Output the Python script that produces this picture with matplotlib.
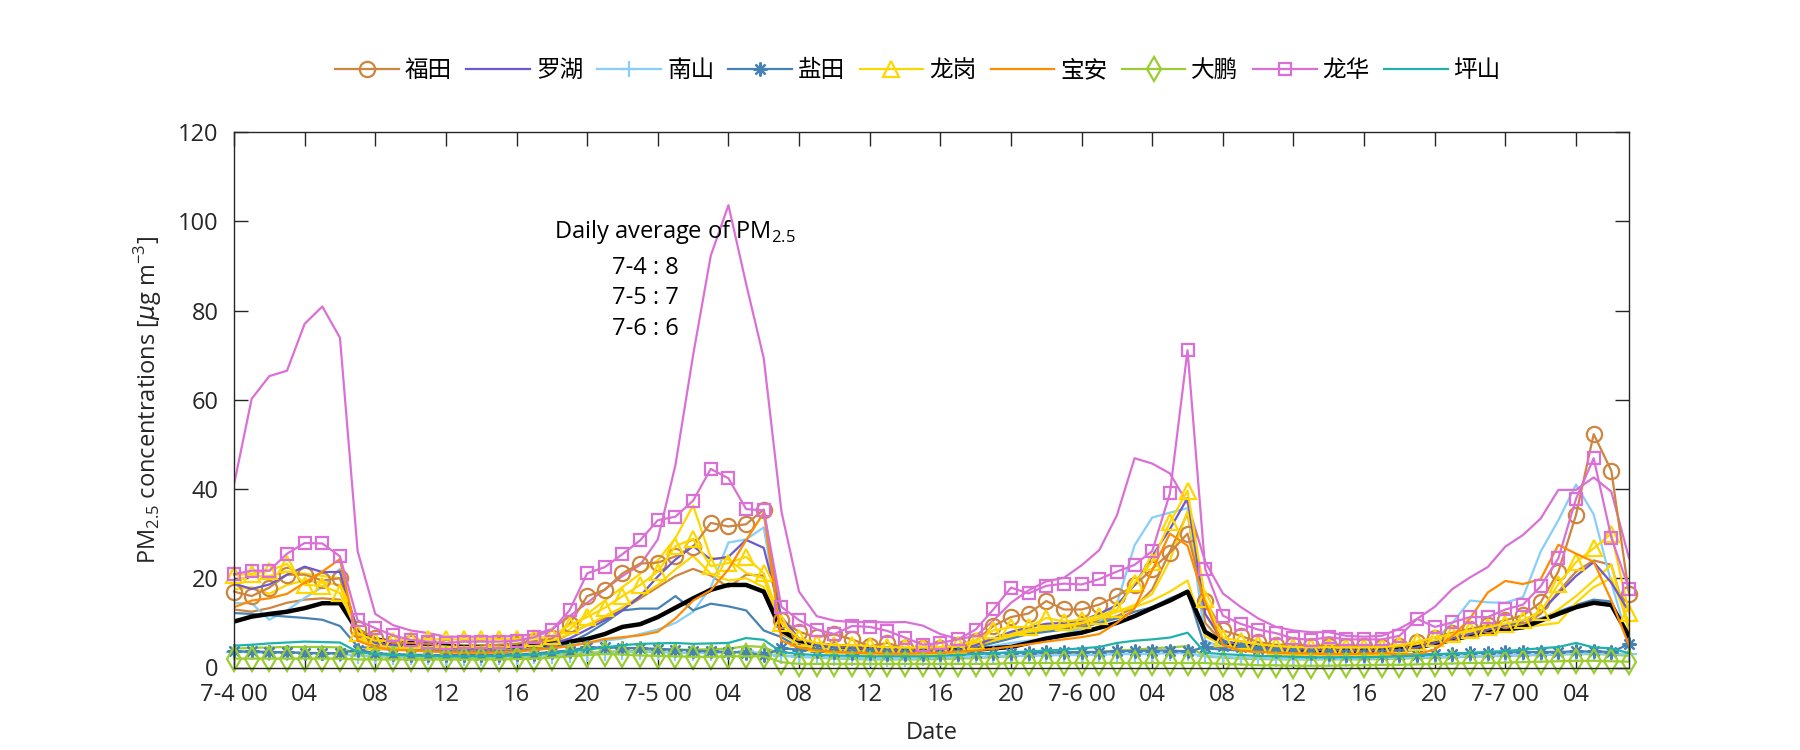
import numpy as np
import matplotlib
matplotlib.use("Agg")
import matplotlib.pyplot as plt

plt.rcParams["font.family"] = ["Open Sans", "Noto Sans CJK SC", "DejaVu Sans"]
plt.rcParams["mathtext.fontset"] = "custom"
plt.rcParams["mathtext.rm"] = "Open Sans"
plt.rcParams["mathtext.it"] = "DejaVu Sans:italic"

# hourly values, 7-4 00:00 .. 7-7 07:00 (80 hours)
hours = np.arange(80)

district_names = ["福田", "罗湖", "南山", "盐田", "龙岗", "宝安", "大鹏", "龙华", "坪山"]

futian_1 = [17.0, 16.0, 17.9, 20.8, 20.8, 19.5, 20.0, 8.7,
            6.5, 5.5, 5.5, 5.3, 4.7, 4.4, 4.7, 5.1, 5.3, 5.9,
            6.5, 9.7, 16.0, 17.4, 21.1, 23.3, 23.5, 24.9, 27.1, 32.4, 31.6, 32.1, 35.4, 10.6,
            8.0, 6.8, 7.4, 6.3, 4.8, 5.5, 4.3, 4.3, 4.4, 5.1,
            6.0, 9.3, 11.3, 12.1, 14.9, 13.0, 13.0, 14.1, 16.0, 18.4, 22.1, 25.7, 30.0, 14.9,
            8.3, 7.1, 5.7, 5.1, 5.1, 4.9, 4.9, 4.9, 4.9, 4.5,
            4.9, 5.7, 6.7, 7.8, 8.7, 9.5, 10.6, 11.7, 14.6, 21.5, 34.2, 52.3, 44.1, 16.4]
futian_2 = [13.0, 12.5, 13.3, 14.5, 15.2, 15.5, 15.2, 7.0,
            5.0, 4.5, 4.3, 4.2, 4.0, 3.9, 4.0, 4.2, 4.4, 4.8,
            5.5, 7.5, 9.5, 11.0, 13.0, 15.5, 18.0, 20.5, 22.1, 20.6, 18.0, 20.8, 20.6, 7.5,
            5.5, 4.8, 4.5, 4.3, 4.1, 4.0, 3.9, 3.9, 4.0, 4.4,
            5.0, 6.0, 7.0, 7.8, 8.5, 8.8, 9.5, 10.5, 11.5, 13.5, 17.5, 26.0, 34.6, 10.0,
            5.5, 4.8, 4.4, 4.2, 4.0, 4.0, 3.9, 3.9, 3.9, 3.9,
            4.2, 4.8, 5.5, 6.0, 6.8, 7.5, 8.5, 9.5, 12.0, 17.0, 21.5, 24.0, 23.0, 9.0]
luohu = [18.8, 17.6, 18.6, 20.8, 22.6, 21.4, 21.4, 8.0,
         5.5, 5.0, 4.8, 4.6, 4.5, 4.3, 4.3, 4.4, 4.6, 4.8,
         5.3, 6.5, 8.5, 10.6, 12.8, 16.0, 20.4, 24.2, 27.2, 24.2, 24.8, 28.6, 26.8, 11.3,
         6.5, 5.0, 4.6, 4.4, 4.2, 4.0, 3.8, 3.6, 3.5, 3.8,
         5.0, 6.5, 8.0, 9.0, 9.8, 10.0, 10.5, 12.0, 14.0, 18.5, 25.0, 31.0, 38.0, 12.0,
         6.0, 5.0, 4.5, 4.3, 4.1, 4.0, 3.9, 3.8, 3.8, 3.8,
         3.9, 4.5, 5.5, 6.5, 7.5, 8.5, 9.5, 10.5, 12.5, 16.5, 20.5, 23.6, 19.0, 12.5]
nanshan_1 = [3.5, 3.4, 3.3, 3.3, 3.2, 3.2, 3.1, 2.6,
             2.5, 2.4, 2.3, 2.3, 2.2, 2.2, 2.2, 2.3, 2.4, 2.5,
             2.6, 2.8, 3.0, 3.2, 3.4, 3.5, 3.5, 3.3, 3.2, 3.3, 3.4, 3.6, 3.2, 2.6,
             2.4, 2.3, 2.2, 2.1, 2.0, 2.0, 2.0, 2.1, 2.2, 2.3,
             2.4, 2.5, 2.6, 2.6, 2.7, 2.8, 2.8, 2.9, 3.0, 3.0, 3.1, 3.2, 3.2, 2.6,
             2.4, 2.2, 2.1, 2.0, 2.0, 2.0, 2.0, 2.0, 2.1, 2.1,
             2.2, 2.3, 2.4, 2.4, 2.5, 2.6, 2.7, 2.8, 2.9, 3.0, 3.1, 3.2, 3.0, 3.0]
nanshan_2 = [14.4, 14.4, 10.7, 12.8, 15.6, 18.0, 22.1, 7.5,
             5.0, 4.5, 4.2, 4.0, 3.8, 3.7, 3.7, 3.8, 3.9, 4.1,
             4.5, 5.0, 5.5, 6.0, 6.5, 7.5, 8.5, 10.0, 12.5, 18.0, 28.0, 28.7, 31.4, 8.0,
             4.8, 4.2, 4.0, 3.8, 3.7, 3.6, 3.5, 3.5, 3.6, 3.8,
             4.2, 4.8, 5.5, 6.0, 6.5, 7.5, 8.7, 10.2, 14.3, 27.4, 33.6, 34.7, 35.7, 6.0,
             4.5, 4.0, 3.8, 3.6, 3.5, 3.4, 3.4, 3.4, 3.4, 3.5,
             3.8, 4.5, 6.0, 10.0, 15.0, 14.6, 14.5, 15.8, 26.0, 33.0, 41.0, 34.3, 19.0, 5.5]
yantian_1 = [3.6, 3.6, 3.5, 3.4, 3.3, 3.2, 3.2, 4.0,
             3.2, 3.0, 2.9, 2.8, 2.8, 2.8, 2.8, 2.9, 3.0, 3.1,
             3.5, 3.8, 4.5, 4.5, 4.4, 4.3, 4.2, 4.0, 3.8, 3.6, 3.5, 3.3, 2.7, 4.3,
             4.0, 3.8, 3.5, 3.3, 3.2, 3.0, 3.0, 3.0, 3.0, 3.1,
             3.2, 3.2, 3.3, 3.3, 3.4, 3.4, 3.5, 3.5, 3.6, 3.7, 3.8, 3.8, 3.6, 4.5,
             4.8, 4.6, 4.2, 3.8, 3.4, 3.2, 3.0, 2.8, 2.8, 2.8,
             2.8, 2.9, 3.0, 3.1, 3.2, 3.3, 3.4, 3.4, 3.5, 3.5, 3.6, 3.6, 3.5, 5.2]
yantian_2 = [12.2, 12.0, 11.7, 11.4, 11.1, 10.7, 9.3, 4.7,
             4.2, 4.0, 3.9, 3.8, 3.7, 3.6, 3.6, 3.7, 3.8, 4.0,
             4.5, 5.5, 7.5, 10.0, 12.8, 13.2, 13.2, 16.0, 12.8, 14.3, 13.7, 12.8, 8.3, 6.8,
             4.5, 4.0, 3.8, 3.7, 3.6, 3.5, 3.5, 3.5, 3.6, 3.8,
             4.5, 5.5, 6.5, 7.5, 8.0, 8.5, 9.0, 10.0, 11.0, 12.5, 13.5, 15.5, 17.0, 4.3,
             4.0, 3.8, 3.6, 3.5, 3.4, 3.3, 3.3, 3.3, 3.3, 3.3,
             3.5, 4.0, 5.5, 7.0, 8.5, 9.2, 9.5, 9.8, 11.0, 12.5, 14.0, 15.2, 14.8, 6.3]
longgang_1 = [20.7, 21.0, 21.7, 23.2, 18.5, 18.3, 16.7, 7.7,
              6.0, 6.0, 6.2, 6.3, 6.3, 6.3, 6.3, 6.3, 6.4, 6.5,
              7.0, 9.5, 11.3, 13.4, 16.0, 18.5, 21.5, 27.2, 28.8, 22.7, 23.4, 24.8, 21.1, 10.0,
              6.5, 5.5, 5.0, 5.0, 4.8, 4.5, 4.5, 4.5, 4.5, 5.0,
              6.0, 8.3, 9.0, 9.1, 11.1, 10.3, 10.7, 11.6, 13.0, 19.0, 23.7, 32.6, 39.6, 15.3,
              6.7, 5.9, 5.2, 4.8, 4.6, 4.5, 4.5, 4.5, 4.5, 4.6,
              5.0, 5.8, 6.7, 7.5, 8.3, 9.0, 9.8, 10.6, 12.5, 18.7, 23.6, 26.7, 30.0, 12.2]
longgang_2 = [19.5, 20.5, 20.5, 21.5, 21.0, 20.5, 20.0, 7.0,
              5.5, 5.3, 5.2, 5.1, 5.0, 5.0, 5.0, 5.1, 5.3, 5.6,
              6.5, 8.5, 12.0, 15.0, 18.0, 21.0, 24.0, 29.0, 36.3, 24.6, 24.2, 21.2, 20.0, 9.0,
              5.5, 5.0, 4.8, 4.6, 4.5, 4.4, 4.4, 4.4, 4.5, 4.8,
              5.5, 6.5, 7.5, 8.5, 9.0, 9.5, 10.0, 11.0, 12.5, 14.0, 16.5, 24.0, 35.0, 12.0,
              5.5, 5.0, 4.7, 4.5, 4.3, 4.2, 4.2, 4.2, 4.2, 4.3,
              4.6, 5.2, 6.0, 7.0, 8.0, 8.5, 9.0, 9.5, 10.5, 13.0, 16.0, 19.5, 23.0, 8.0]
longgang_3 = [17.5, 18.0, 16.5, 18.5, 19.5, 19.0, 18.5, 6.5,
              5.0, 4.8, 4.7, 4.6, 4.5, 4.5, 4.5, 4.6, 4.7, 5.0,
              6.0, 7.5, 9.5, 11.5, 13.5, 16.0, 18.5, 22.0, 25.0, 21.0, 19.5, 20.0, 18.0, 8.0,
              5.0, 4.6, 4.4, 4.2, 4.0, 3.9, 3.9, 3.9, 4.0, 4.3,
              5.0, 6.0, 7.0, 8.0, 8.5, 9.0, 10.0, 11.0, 12.5, 13.5, 15.0, 17.0, 19.5, 7.0,
              5.0, 4.6, 4.3, 4.1, 4.0, 4.0, 4.0, 4.0, 4.0, 4.1,
              4.4, 5.0, 5.8, 6.5, 7.2, 8.0, 8.5, 9.0, 9.5, 10.0, 14.5, 18.0, 20.0, 10.0]
baoan = [13.5, 15.0, 15.5, 16.5, 19.0, 21.5, 24.3, 6.0,
         4.5, 4.0, 3.8, 3.6, 3.4, 3.3, 3.3, 3.4, 3.6, 3.9,
         4.3, 4.8, 5.5, 6.4, 6.8, 7.2, 8.0, 11.0, 15.0, 17.3, 22.0, 28.5, 34.7, 6.0,
         4.5, 3.8, 3.5, 3.3, 3.2, 3.1, 3.1, 3.2, 3.3, 3.5,
         3.8, 4.2, 4.7, 5.2, 5.8, 6.3, 6.8, 7.5, 10.0, 13.2, 21.8, 30.0, 27.3, 14.5,
         5.0, 3.8, 3.5, 3.3, 3.2, 3.1, 3.0, 3.0, 3.1, 3.2,
         3.0, 3.0, 4.0, 7.0, 11.0, 16.8, 19.4, 18.7, 19.8, 27.5, 25.5, 23.7, 15.0, 5.0]
dapeng_1 = [2.0, 2.0, 2.0, 2.0, 2.0, 2.0, 2.0, 1.8,
            1.8, 1.8, 1.8, 1.8, 1.8, 1.8, 1.8, 1.8, 1.9, 2.0,
            2.2, 2.5, 2.8, 3.0, 2.9, 2.7, 2.6, 2.5, 2.4, 2.4, 2.5, 2.5, 2.5, 1.2,
            0.8, 0.8, 0.8, 0.8, 0.8, 0.8, 0.8, 0.8, 0.8, 0.8,
            0.8, 0.8, 1.0, 1.0, 1.0, 1.0, 1.0, 1.0, 1.0, 1.0, 1.0, 1.0, 1.0, 1.0,
            0.8, 0.7, 0.5, 0.5, 0.4, 0.4, 0.4, 0.5, 0.5, 0.6,
            0.6, 0.7, 0.8, 0.9, 1.0, 1.0, 1.1, 1.2, 1.3, 1.4, 1.5, 1.5, 1.4, 1.3]
dapeng_2 = [4.2, 4.4, 4.5, 4.6, 4.6, 4.6, 4.5, 2.8,
            2.5, 2.4, 2.3, 2.3, 2.2, 2.2, 2.2, 2.3, 2.4, 2.6,
            2.8, 3.0, 3.3, 3.5, 3.7, 3.8, 3.9, 4.0, 4.0, 4.1, 4.2, 4.8, 4.6, 2.8,
            2.4, 2.2, 2.0, 1.9, 1.8, 1.8, 1.8, 1.8, 1.9, 2.0,
            2.1, 2.3, 2.5, 2.7, 2.9, 3.1, 3.3, 3.5, 3.8, 4.0, 4.3, 4.5, 4.8, 2.5,
            2.2, 2.0, 1.9, 1.8, 1.8, 1.8, 1.8, 1.8, 1.8, 1.9,
            2.0, 2.1, 2.2, 2.3, 2.4, 2.5, 2.6, 2.7, 2.8, 2.9, 3.0, 3.0, 2.9, 2.6]
longhua_1 = [20.9, 21.7, 21.7, 25.5, 27.9, 27.8, 24.9, 10.6,
             8.8, 7.2, 6.2, 5.8, 5.5, 5.8, 5.8, 5.8, 6.0, 6.8,
             8.4, 12.8, 21.1, 22.5, 25.4, 28.5, 33.0, 33.8, 37.4, 44.5, 42.4, 35.5, 35.2, 13.6,
             10.6, 8.5, 7.5, 9.3, 9.1, 8.2, 6.7, 5.1, 5.5, 6.3,
             8.5, 13.0, 17.9, 16.6, 18.3, 18.8, 18.6, 19.8, 21.5, 23.0, 26.1, 39.0, 71.1, 22.1,
             11.6, 9.8, 8.5, 7.7, 6.5, 6.2, 6.8, 6.3, 6.3, 6.3,
             7.1, 10.9, 9.1, 10.1, 11.3, 11.3, 13.0, 14.1, 18.2, 24.5, 37.8, 46.9, 29.1, 17.6]
longhua_2 = [41.0, 60.2, 65.3, 66.5, 77.0, 80.9, 73.9, 26.1,
             12.0, 9.5, 8.3, 7.7, 6.9, 6.9, 6.9, 6.9, 7.1, 7.4,
             8.6, 11.5, 14.5, 17.5, 20.5, 23.0, 28.7, 45.4, 70.0, 92.3, 103.6, 86.0, 69.3, 35.0,
             17.0, 11.5, 10.5, 10.2, 10.2, 10.1, 10.2, 9.4, 7.5, 6.4,
             7.0, 10.5, 14.5, 17.3, 19.3, 20.1, 22.9, 26.3, 34.1, 46.9, 45.7, 43.5, 36.8, 23.7,
             16.6, 13.6, 11.0, 9.1, 8.3, 7.9, 7.9, 7.1, 6.9, 7.1,
             8.7, 10.9, 13.6, 17.6, 20.2, 22.5, 27.1, 29.7, 33.4, 39.8, 39.8, 42.6, 39.4, 24.5]
pingshan = [4.9, 5.1, 5.4, 5.6, 5.8, 5.7, 5.6, 3.5,
            3.0, 2.8, 2.7, 2.6, 2.5, 2.5, 2.5, 2.6, 2.7, 2.9,
            3.2, 3.6, 4.0, 4.5, 5.0, 5.3, 5.4, 5.5, 5.3, 5.4, 5.5, 6.6, 6.2, 3.5,
            3.0, 2.8, 2.7, 2.6, 2.5, 2.5, 2.5, 2.5, 2.6, 2.8,
            3.0, 3.2, 3.4, 3.6, 3.8, 4.0, 4.3, 4.6, 5.5, 6.0, 6.3, 6.7, 7.8, 3.3,
            3.0, 2.8, 2.6, 2.5, 2.4, 2.3, 2.3, 2.3, 2.3, 2.4,
            2.5, 2.7, 2.9, 3.1, 3.3, 3.5, 3.7, 4.0, 4.3, 4.6, 5.5, 4.5, 4.3, 3.2]
city_mean = [10.3, 11.4, 12.0, 12.5, 13.3, 14.4, 14.4, 8.3,
             6.3, 5.7, 5.5, 5.2, 4.8, 4.6, 4.6, 4.6, 4.7, 4.9,
             5.3, 5.8, 6.4, 7.5, 9.1, 9.7, 11.3, 13.4, 15.5, 17.4, 18.5, 18.5, 17.0, 8.3,
             6.0, 5.2, 4.8, 4.6, 4.4, 4.2, 4.1, 4.0, 3.9, 3.8,
             4.0, 4.3, 4.6, 5.5, 6.5, 7.2, 7.8, 8.9, 10.0, 11.5, 13.3, 15.0, 17.0, 8.0,
             5.6, 5.0, 4.6, 4.3, 4.1, 4.0, 3.9, 3.8, 3.8, 3.8,
             4.0, 4.5, 5.3, 6.2, 7.2, 7.8, 8.5, 9.0, 10.5, 12.0, 13.5, 14.5, 14.0, 7.0]

daily_avg_labels = ["7-4 : 8", "7-5 : 7", "7-6 : 6"]

tick_hours = np.arange(0, 80, 4)
tick_labels = []
for h in tick_hours:
    if h % 24 == 0:
        tick_labels.append(f"7-{4 + h // 24} 00")
    else:
        tick_labels.append(f"{h % 24:02d}")

c_ft = "#CD853F"
c_lh = "#6A5ACD"
c_ns = "#87CEFA"
c_yt = "#4682B4"
c_lg = "#FFD700"
c_ba = "#FF8C00"
c_dp = "#9ACD32"
c_lhua = "#DA70D6"
c_ps = "#20B2AA"

fig = plt.figure(figsize=(18, 7.5), dpi=100)
ax = fig.add_axes([0.13, 0.11, 0.775, 0.714])

lw = 1.6
mk = dict(mfc="none", mew=1.6, clip_on=False)

# extra stations, lines only
ax.plot(hours, futian_2, color=c_ft, lw=lw)
ax.plot(hours, nanshan_2, color=c_ns, lw=lw)
ax.plot(hours, yantian_2, color=c_yt, lw=lw)
ax.plot(hours, longgang_2, color=c_lg, lw=lw)
ax.plot(hours, longgang_3, color=c_lg, lw=lw)
ax.plot(hours, dapeng_2, color=c_dp, lw=lw)
ax.plot(hours, longhua_2, color=c_lhua, lw=lw)

ax.plot(hours, city_mean, color="black", lw=3.2)

handles = []
handles += ax.plot(hours, futian_1, color=c_ft, lw=lw, marker="o", ms=11, **mk)
handles += ax.plot(hours, luohu, color=c_lh, lw=lw)
handles += ax.plot(hours, nanshan_1, color=c_ns, lw=lw, marker="+", ms=11, **mk)
handles += ax.plot(hours, yantian_1, color=c_yt, lw=lw, marker=(8, 2, 0), ms=10, **mk)
handles += ax.plot(hours, longgang_1, color=c_lg, lw=lw, marker="^", ms=11, **mk)
handles += ax.plot(hours, baoan, color=c_ba, lw=lw)
handles += ax.plot(hours, dapeng_1, color=c_dp, lw=lw, marker="d", ms=12, **mk)
handles += ax.plot(hours, longhua_1, color=c_lhua, lw=lw, marker="s", ms=8, **mk)
handles += ax.plot(hours, pingshan, color=c_ps, lw=lw)

ax.set_xlim(0, 79)
ax.set_ylim(0, 120)
ax.set_yticks(np.arange(0, 121, 20))
ax.set_xticks(tick_hours)
ax.set_xticklabels(tick_labels)
ax.tick_params(direction="in", length=10, width=1, top=True, right=True,
               labelsize=17, colors="#262626", pad=11)
for s in ax.spines.values():
    s.set_color("#262626")
    s.set_linewidth(1)

ax.set_xlabel("Date", fontsize=17, color="#262626", labelpad=10)
ax.set_ylabel("PM$_{2.5}$ concentrations [$\\mu$g m$^{-3}$]", fontsize=17,
              color="#262626", labelpad=10)

ax.text(18.1, 97.5, "Daily average of PM$_{2.5}$", fontsize=17, ha="left", va="center")
for i, lab in enumerate(daily_avg_labels):
    ax.text(21.4, 89.5 - i * 6.8, lab, fontsize=17, ha="left", va="center")

fig.legend(handles, district_names, loc="center", bbox_to_anchor=(0.51, 0.905),
           ncol=9, frameon=False, fontsize=17, handlelength=2.7,
           handletextpad=0.25, columnspacing=0.6)

fig.savefig("out.png", dpi=100)
